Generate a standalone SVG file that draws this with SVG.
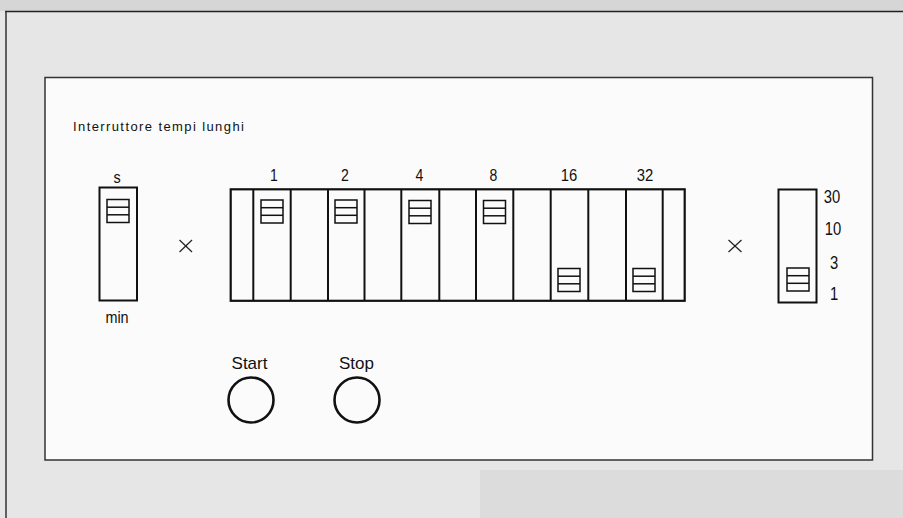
<svg xmlns="http://www.w3.org/2000/svg" xmlns:xlink="http://www.w3.org/1999/xlink" width="903" height="518" viewBox="0 0 903 518">
<style>
.frame{fill:none;stroke:#111;stroke-width:2}
.strip{fill:none;stroke:#111;stroke-width:2.2}
.div{stroke:#111;stroke-width:2}
.ind{fill:none;stroke:#111;stroke-width:1.5}
.mark{stroke:#222;stroke-width:1.2}
.btn{fill:none;stroke:#111;stroke-width:2.6}
.t{font-family:"Liberation Sans",Arial,sans-serif;fill:#111}
</style>
<defs>
<g id="ind">
<rect class="ind" x="0" y="0" width="22" height="23"/>
<line class="ind" x1="0" y1="7.7" x2="22" y2="7.7"/>
<line class="ind" x1="0" y1="15.3" x2="22" y2="15.3"/>
</g>
</defs>
<rect x="0" y="0" width="903" height="518" fill="#e6e6e6"/>
<rect x="0" y="0" width="903" height="11" fill="#d6d6d6"/>
<rect x="480" y="470" width="423" height="48" fill="#dcdcdc"/>
<line x1="5" y1="11.5" x2="903" y2="11.5" stroke="#222" stroke-width="1.5"/>
<line x1="6" y1="11" x2="6" y2="518" stroke="#333" stroke-width="1.5"/>
<g id="panel">
<rect x="45" y="77.5" width="827.5" height="382.5" fill="#fbfbfb" stroke="#333" stroke-width="1.5"/>
<text class="t" x="73" y="130.5" font-size="13" letter-spacing="1.4">Interruttore tempi lunghi</text>
</g>
<g id="switch-s-min">
<rect class="frame" x="99.5" y="187.5" width="37.5" height="113"/>
<use xlink:href="#ind" x="107" y="199.5"/>
<text class="t" transform="translate(117,183) scale(0.9,1)" text-anchor="middle" font-size="16">s</text>
<text class="t" transform="translate(117,323) scale(0.9,1)" text-anchor="middle" font-size="16">min</text>
</g>
<g id="times-left">
<line class="mark" x1="179.5" y1="240" x2="192" y2="252"/>
<line class="mark" x1="192" y1="240" x2="179.5" y2="252"/>
</g>
<g id="switch-binary">
<rect class="strip" x="230.7" y="189.3" width="454" height="111.5"/>
<line class="div" x1="253.3" y1="189.3" x2="253.3" y2="300.8"/>
<line class="div" x1="290.7" y1="189.3" x2="290.7" y2="300.8"/>
<line class="div" x1="328" y1="189.3" x2="328" y2="300.8"/>
<line class="div" x1="364.5" y1="189.3" x2="364.5" y2="300.8"/>
<line class="div" x1="401.3" y1="189.3" x2="401.3" y2="300.8"/>
<line class="div" x1="439.3" y1="189.3" x2="439.3" y2="300.8"/>
<line class="div" x1="476" y1="189.3" x2="476" y2="300.8"/>
<line class="div" x1="513.3" y1="189.3" x2="513.3" y2="300.8"/>
<line class="div" x1="550.7" y1="189.3" x2="550.7" y2="300.8"/>
<line class="div" x1="588.3" y1="189.3" x2="588.3" y2="300.8"/>
<line class="div" x1="626" y1="189.3" x2="626" y2="300.8"/>
<line class="div" x1="662.7" y1="189.3" x2="662.7" y2="300.8"/>
<use xlink:href="#ind" x="261" y="200"/>
<use xlink:href="#ind" x="335" y="200"/>
<use xlink:href="#ind" x="409" y="200.5"/>
<use xlink:href="#ind" x="483.5" y="200.5"/>
<use xlink:href="#ind" x="558" y="268.5"/>
<use xlink:href="#ind" x="633" y="268.5"/>
<text class="t" transform="translate(274,181) scale(0.85,1)" text-anchor="middle" font-size="16.5">1</text>
<text class="t" transform="translate(345,181) scale(0.85,1)" text-anchor="middle" font-size="16.5">2</text>
<text class="t" transform="translate(419.5,181) scale(0.85,1)" text-anchor="middle" font-size="16.5">4</text>
<text class="t" transform="translate(493.5,181) scale(0.85,1)" text-anchor="middle" font-size="16.5">8</text>
<text class="t" transform="translate(569,181) scale(0.9,1)" text-anchor="middle" font-size="16.5">16</text>
<text class="t" transform="translate(645,181) scale(0.9,1)" text-anchor="middle" font-size="16.5">32</text>
</g>
<g id="times-right">
<line class="mark" x1="728.5" y1="240" x2="741.5" y2="252"/>
<line class="mark" x1="741.5" y1="240" x2="728.5" y2="252"/>
</g>
<g id="switch-multiplier">
<rect class="frame" x="778.5" y="189.5" width="38" height="113"/>
<use xlink:href="#ind" x="787" y="268"/>
<text class="t" transform="translate(832,203) scale(0.8,1)" text-anchor="middle" font-size="18.5">30</text>
<text class="t" transform="translate(833,235) scale(0.8,1)" text-anchor="middle" font-size="18.5">10</text>
<text class="t" transform="translate(834,269) scale(0.8,1)" text-anchor="middle" font-size="18.5">3</text>
<text class="t" transform="translate(834,300) scale(0.8,1)" text-anchor="middle" font-size="18.5">1</text>
</g>
<g id="start-button">
<circle class="btn" cx="251" cy="400" r="22.5"/>
<text class="t" x="249.5" y="368.5" text-anchor="middle" font-size="17">Start</text>
</g>
<g id="stop-button">
<circle class="btn" cx="357" cy="400" r="22.5"/>
<text class="t" x="356.5" y="368.5" text-anchor="middle" font-size="17">Stop</text>
</g>
<g id="connectors"/>
</svg>
